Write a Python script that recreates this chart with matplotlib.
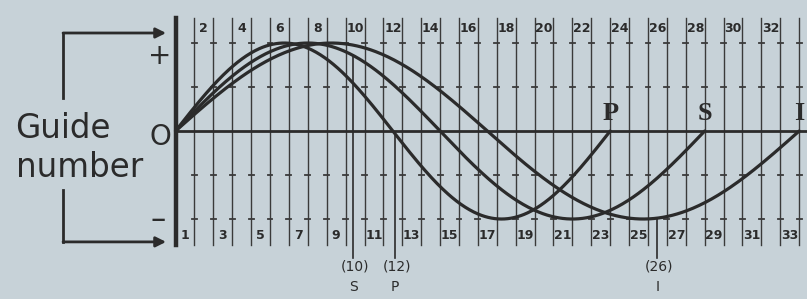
import numpy as np
import matplotlib.pyplot as plt

# Biorhythm cycles (days) and the labelled critical-day markers
cycles = ["P", "S", "I"]
periods = [23, 28, 33]
days = np.arange(1, 34)
top_labels = [d for d in days if d % 2 == 0]
bottom_labels = [d for d in days if d % 2 == 1]
tick_levels = [-1.0, -0.5, 0.5, 1.0]

marker_days = [9.4, 11.6, 25.5]
marker_cycle = ["S", "P", "I"]
marker_text = ["(10)", "(12)", "(26)"]

bg = "#c7d2d8"
ink = "#2b2b2b"

fig = plt.figure(figsize=(8.07, 2.99), dpi=100, facecolor=bg)
ax = fig.add_axes([0, 0, 1, 1])
ax.set_facecolor(bg)
ax.set_xlim(-9.286, 33.413)
ax.set_ylim(-1.909, 1.489)
ax.axis("off")

# grid of day lines with small cross ticks
for d in days:
    ax.plot([d, d], [-1.29, 1.29], color="#3a3a3a", lw=1.0, zorder=1)
    for lv in tick_levels:
        ax.plot([d - 0.13, d + 0.13], [lv, lv], color="#3a3a3a", lw=1.3, zorder=1)

# main axis and zero line
ax.plot([0, 0], [-1.29, 1.29], color=ink, lw=3.2, zorder=3)
ax.plot([0, 33.4], [0, 0], color=ink, lw=2.0, zorder=2)

# day numbers
num_font = dict(family=["Liberation Sans Narrow", "DejaVu Sans"], fontsize=9,
                fontweight="bold", color=ink, ha="center", va="center")
for d in top_labels:
    ax.text(d - 0.5, 1.16, str(d), **num_font)
for d in bottom_labels:
    ax.text(d - 0.5, -1.19, str(d), **num_font)

# cycle curves
for name, per in zip(cycles, periods):
    x = np.linspace(0, per, 400)
    ax.plot(x, np.sin(2 * np.pi * x / per), color=ink, lw=2.3, zorder=4,
            solid_capstyle="round")
    ax.text(per, 0.07, name, family="Liberation Serif", fontweight="bold",
            fontsize=19, color=ink, ha="center", va="bottom", zorder=5)

# critical-day marker lines and captions
for d, c, t in zip(marker_days, marker_cycle, marker_text):
    per = periods[cycles.index(c)]
    y0 = np.sin(2 * np.pi * d / per)
    ax.plot([d, d], [y0, -1.44], color=ink, lw=1.2, zorder=3)
    ax.text(d + 0.1, -1.54, t, fontsize=10, color=ink, ha="center", va="center")
    ax.text(d, -1.77, c, fontsize=10, color=ink, ha="center", va="center")

# left side: guide number brackets and signs
arrow = dict(arrowstyle="-|>,head_length=0.6,head_width=0.3", color=ink, lw=2.0,
             shrinkA=0, shrinkB=0)
ax.plot([-5.95, -5.95], [0.375, 1.114], color=ink, lw=2.0)
ax.annotate("", xy=(-0.5, 1.114), xytext=(-5.95, 1.114), arrowprops=arrow)
ax.plot([-5.95, -5.95], [-0.67, -1.26], color=ink, lw=2.0)
ax.annotate("", xy=(-0.5, -1.26), xytext=(-5.95, -1.26), arrowprops=arrow)

ax.text(-8.5, -0.08, "Guide", fontsize=23.5, color=ink, ha="left", va="baseline")
ax.text(-8.45, -0.52, "number", fontsize=23.5, color=ink, ha="left", va="baseline")
ax.text(-0.82, 0.85, "+", fontsize=20, color=ink, ha="center", va="center")
ax.text(-0.78, -0.07, "O", fontsize=20, color=ink, ha="center", va="center")
ax.text(-0.93, -1.0, "\u2013", fontsize=22, color=ink, ha="center", va="center")

fig.savefig("out.png", dpi=100, facecolor=bg)
